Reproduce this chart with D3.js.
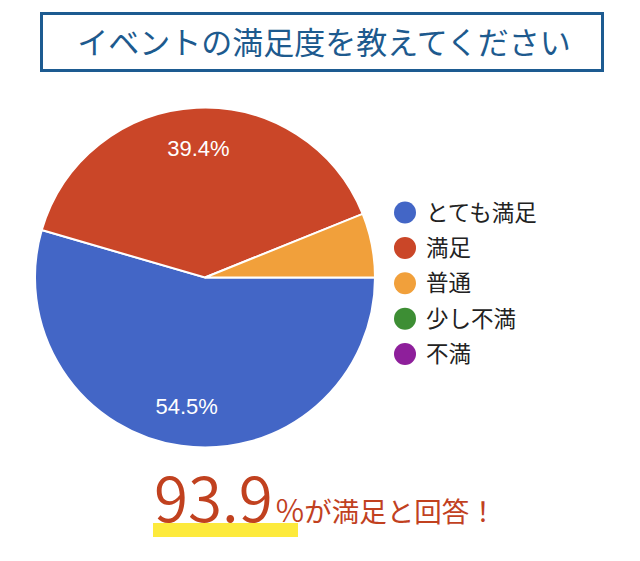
<!DOCTYPE html>
<html>
<head>
<meta charset="utf-8">
<script src="https://cdn.jsdelivr.net/npm/d3@7"></script>
<style>
  html, body { margin: 0; padding: 0; background: #fff; }
  svg { display: block; font-family: "Noto Sans CJK JP", "Noto Sans", sans-serif; }
</style>
</head>
<body>
<div id="chart"></div>
<script>
(function () {
"use strict";

// Survey answers (percent)
var categories = ["とても満足", "満足", "普通", "少し不満", "不満"];
var values = [54.5, 39.4, 6.1, 0, 0];
var colors = ["#4366c6", "#ca4628", "#f1a03b", "#3d8e34", "#8e1f9b"];

var title = "イベントの満足度を教えてください";
var summaryValue = "93.9";
var summaryUnit = "%";
var summaryText = "が満足と回答！";

var width = 640, height = 561;

var svg = d3.select("#chart").append("svg")
  .attr("width", width)
  .attr("height", height)
  .attr("viewBox", "0 0 " + width + " " + height);

// Title box
svg.append("rect")
  .attr("x", 41.5)
  .attr("y", 13.5)
  .attr("width", 561)
  .attr("height", 57)
  .style("fill", "#fff")
  .style("stroke", "#1d5b91")
  .style("stroke-width", 3);

svg.append("text")
  .attr("x", 324)
  .attr("y", 43)
  .attr("dy", "0.36em")
  .style("text-anchor", "middle")
  .style("fill", "#1d5a8e")
  .style("font-size", "31px")
  .text(title);

// Pie
var cx = 205, cy = 277.5, radius = 170;

var data = categories.map(function (c, i) {
  return { name: c, value: values[i], color: colors[i] };
});

var pie = d3.pie()
  .sort(null)
  .value(function (d) { return d.value; })
  .startAngle(Math.PI / 2)
  .endAngle(Math.PI / 2 + 2 * Math.PI);

var arc = d3.arc().innerRadius(0).outerRadius(radius);
var labelArc = d3.arc().innerRadius(130).outerRadius(130);

var pieGroup = svg.append("g")
  .attr("transform", "translate(" + cx + "," + cy + ")");

var arcs = pie(data).filter(function (d) { return d.data.value > 0; });

pieGroup.selectAll("path.slice")
  .data(arcs)
  .enter()
  .append("path")
    .attr("class", "slice")
    .attr("d", arc)
    .style("fill", function (d) { return d.data.color; })
    .style("stroke", "#fff")
    .style("stroke-width", 2);

// Only label the big slices
pieGroup.selectAll("text.pct")
  .data(arcs.filter(function (d) { return d.data.value >= 10; }))
  .enter()
  .append("text")
    .attr("class", "pct")
    .attr("transform", function (d) { return "translate(" + labelArc.centroid(d) + ")"; })
    .attr("dy", "0.36em")
    .style("text-anchor", "middle")
    .style("fill", "#fff")
    .style("font-family", "'Liberation Sans', Arial, sans-serif")
    .style("font-size", "22px")
    .text(function (d) { return d.data.value.toFixed(1) + "%"; });

// Legend
var legendY = d3.scalePoint()
  .domain(categories)
  .range([212.5, 354]);

var legend = svg.append("g")
  .selectAll("g")
  .data(data)
  .enter()
  .append("g")
    .attr("transform", function (d) { return "translate(405," + legendY(d.name) + ")"; });

legend.append("circle")
  .attr("r", 11)
  .style("fill", function (d) { return d.color; });

legend.append("text")
  .attr("x", 21)
  .attr("dy", "0.36em")
  .style("fill", "#222")
  .style("font-size", "22.5px")
  .text(function (d) { return d.name; });

// Summary line
svg.append("rect")
  .attr("x", 153)
  .attr("y", 523)
  .attr("width", 145)
  .attr("height", 14)
  .style("fill", "#fdea3c");

var summary = svg.append("text")
  .attr("x", 154)
  .attr("y", 522)
  .style("fill", "#c1411f");

summary.append("tspan")
  .style("font-size", "62px")
  .style("font-weight", 350)
  .text(summaryValue);

summary.append("tspan")
  .attr("dx", 3)
  .style("font-size", "31px")
  .style("font-weight", 350)
  .text(summaryUnit);

summary.append("tspan")
  .attr("dx", 0)
  .style("font-size", "27.5px")
  .text(summaryText);

})();
</script>
</body>
</html>
